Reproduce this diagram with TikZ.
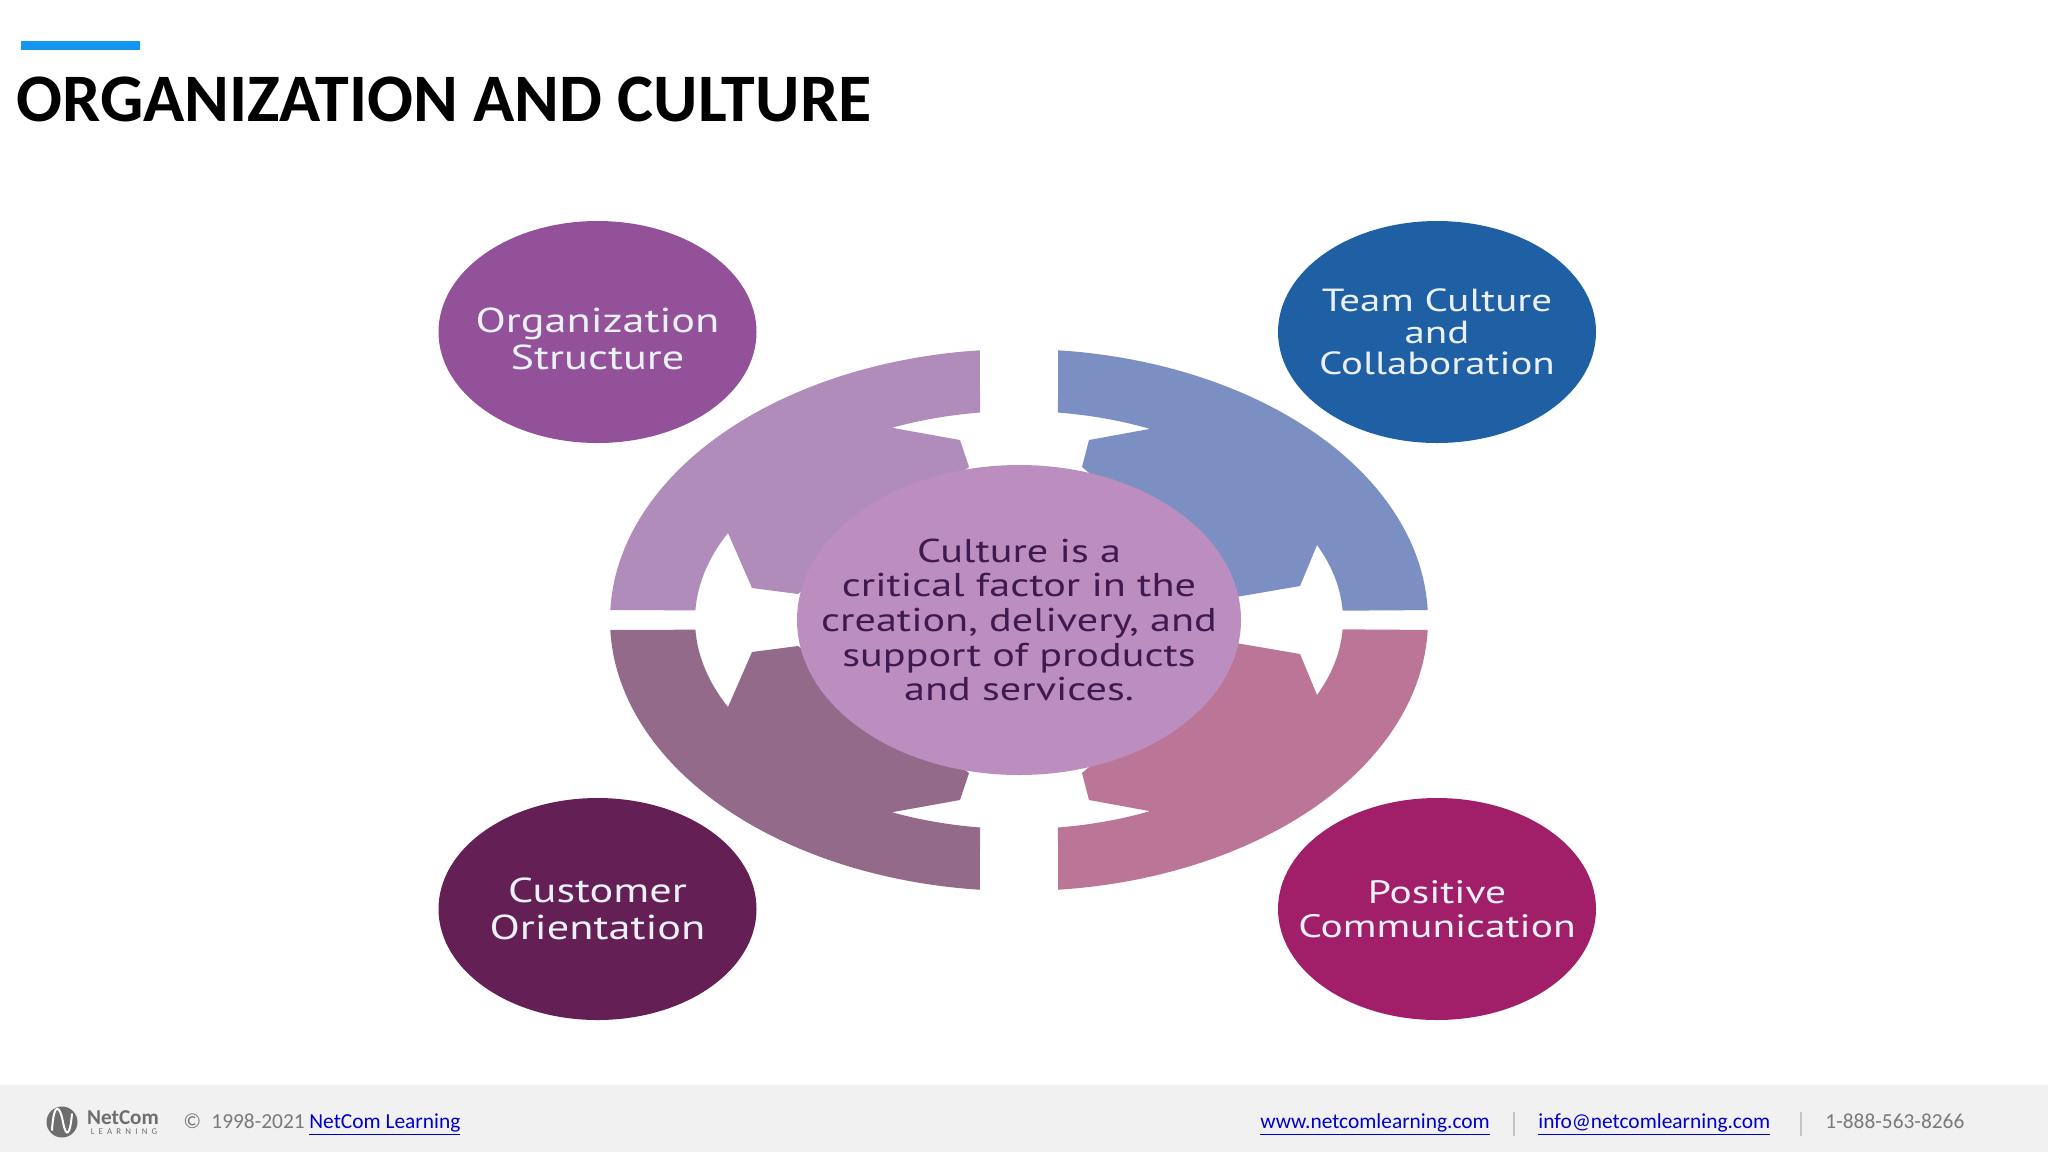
\documentclass[tikz,border=0pt]{standalone}
\usepackage{fontspec}
\usetikzlibrary{shapes.geometric}
\setmainfont{Carlito}
\newfontfamily\widefont[FakeStretch=1.28]{PT Sans}
\definecolor{barblue}{HTML}{1496F0}
\definecolor{footbg}{HTML}{F1F1F2}
\definecolor{foottxt}{HTML}{7A7A7A}
\definecolor{linkblue}{HTML}{0000CC}
\definecolor{sepgrey}{HTML}{C4C4C4}
\definecolor{cUL}{HTML}{B08CBB}
\definecolor{cUR}{HTML}{7B8FC2}
\definecolor{cLL}{HTML}{936A8A}
\definecolor{cLR}{HTML}{BB7596}
\definecolor{cMid}{HTML}{BC8EC0}
\definecolor{cOrg}{HTML}{925198}
\definecolor{cTeam}{HTML}{1F5FA3}
\definecolor{cCust}{HTML}{641F55}
\definecolor{cPos}{HTML}{A01F68}
\definecolor{midtxt}{HTML}{3E1A50}
\definecolor{balltxt}{HTML}{EAF0F6}
\tikzset{
  oval/.style={ellipse,inner sep=0pt,minimum width=159pt,minimum height=111pt},
  balllabel/.style={align=center,text=balltxt,font=\widefont\fontsize{17.3}{18.5}\selectfont,inner sep=0pt},
  midlabel/.style={align=center,text=midtxt,font=\widefont\fontsize{16.5}{17.3}\selectfont,inner sep=0pt},
  foot/.style={anchor=base west,inner sep=0pt,text=foottxt,font=\fontsize{10.7}{12}\selectfont},
  footlink/.style={foot,text=linkblue},
  footsep/.style={sepgrey,line width=.6pt}
}
% colour, xscale, yscale, notch angle, 3 notch points, 3 side points, tip angle
\newcommand{\ringpart}[9]{%
  \begin{scope}[shift={(1019,620)},xscale=#2,yscale=#3]
    \fill[#1] plot[domain=2.1:84.5,samples=50] ({409*cos(\x)},{271*sin(\x)})
      -- plot[domain=83.1:#4,samples=20] ({324*cos(\x)},{209*sin(\x)})
      -- #5 -- #6 -- #7 -- #8 -- #9 --
      plot[domain=\tipangle:2.8,samples=20] ({324*cos(\x)},{\tipry*sin(\x)}) -- cycle;
  \end{scope}}
\begin{document}
\begin{tikzpicture}[x=.5pt,y=-.5pt]
\useasboundingbox (0,0) rectangle (2048,1152);
\fill[white] (0,0) rectangle (2048,1152);
\fill[footbg] (0,1085) rectangle (2048,1152);
\fill[barblue] (21,41) rectangle (140,50);
\node[anchor=base west,inner sep=0pt,font=\bfseries\fontsize{34}{36}\selectfont] (title) at (16,121) {ORGANIZATION AND CULTURE};

\def\tipangle{26.1}\def\tipry{198}
\ringpart{cUL}{-1}{-1}{66.9}{(59,180)}{(50,153)}{(221,26)}{(267,32)}{(291,87)}
\ringpart{cLL}{-1}{1}{66.9}{(59,180)}{(50,153)}{(221,26)}{(267,32)}{(291,87)}
\def\tipangle{23.1}\def\tipry{191}
\ringpart{cUR}{1}{-1}{66.15}{(70,180)}{(63,153)}{(217,23)}{(281,34)}{(298,75)}
\ringpart{cLR}{1}{1}{66.15}{(70,180)}{(63,153)}{(217,23)}{(281,34)}{(298,75)}

\node[ellipse,inner sep=0pt,minimum width=222pt,minimum height=155pt,fill=cMid] (mid) at (1019,620) {};
\node[midlabel] (midtext) at (mid.center) {Culture is a\\critical factor in the\\creation, delivery, and\\support of products\\and services.};

\node[oval,fill=cOrg] (org) at (597.5,332) {};
\node[balllabel] (orgtext) at ([yshift=-3.5pt]org.center) {Organization\\Structure};
\node[oval,fill=cTeam] (team) at (1437,332) {};
\node[balllabel,font=\widefont\fontsize{16}{15.7}\selectfont] (teamtext) at (team.center) {Team Culture\\and\\Collaboration};
\node[oval,fill=cCust] (cust) at (597.5,909) {};
\node[balllabel] (custtext) at (cust.center) {Customer\\Orientation};
\node[oval,fill=cPos] (pos) at (1437,909) {};
\node[balllabel,font=\widefont\fontsize{16.2}{17}\selectfont] (postext) at (pos.center) {Positive\\Communication};

% footer logo
\node[circle,fill=foottxt!90!black,inner sep=0pt,minimum size=15.5pt] (logo) at (62,1122) {};
\draw[white,line width=1pt,line cap=round] (52,1130) .. controls (54,1100) and (60,1106) .. (63,1122) .. controls (66,1138) and (70,1136) .. (72,1114);
\node[inner sep=0pt,text=foottxt!90!black,font=\bfseries\fontsize{10.6}{12}\selectfont] (logoa) at (123,1117.5) {NetCom};
\node[inner sep=0pt,text=foottxt!90!black,font=\addfontfeature{LetterSpace=48}\fontsize{4.4}{5}\selectfont] (logob) at (124,1131.5) {LEARNING};

\node[foot] (copy) at (183,1128) {©};
\node[foot] (years) at (211,1128) {1998-2021};
\node[footlink] (nclink) at (309,1128) {\underline{NetCom Learning}};
\node[footlink] (www) at (1260,1128) {\underline{www.netcomlearning.com}};
\coordinate (sa) at (1514,1112); \coordinate (sb) at (1514,1136);
\draw[footsep] (sa) -- (sb);
\node[footlink] (mail) at (1538,1128) {\underline{info@netcomlearning.com}};
\coordinate (sc) at (1801,1112); \coordinate (sd) at (1801,1136);
\draw[footsep] (sc) -- (sd);
\node[foot] (phone) at (1825,1128) {1-888-563-8266};
\end{tikzpicture}
\end{document}
